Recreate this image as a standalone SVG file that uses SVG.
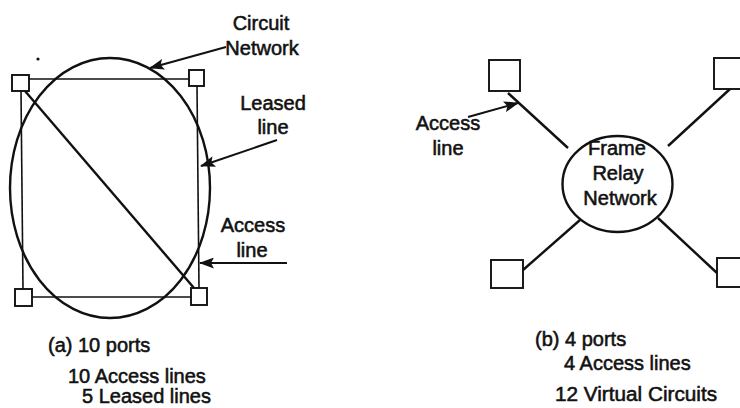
<svg xmlns="http://www.w3.org/2000/svg" width="740" height="408" viewBox="0 0 740 408">
<style>
.t{font-family:"Liberation Sans",Arial,sans-serif;font-size:20px;fill:#111;stroke:#111;stroke-width:0.55}
.m{text-anchor:middle}
.thick{fill:none;stroke:#111;stroke-width:2.4}
.thin{fill:none;stroke:#111;stroke-width:1.6}
.sq{fill:#fff;stroke:#111;stroke-width:1.9}
.arr{fill:none;stroke:#111;stroke-width:2;marker-end:url(#ah)}
</style>
<defs>
<marker id="ah" markerUnits="userSpaceOnUse" markerWidth="15" markerHeight="11" refX="14" refY="5.5" orient="auto">
<path d="M0,0 L15,5.5 L0,11 L3,5.5 z" fill="#111"/>
</marker>
</defs>
<rect width="740" height="408" fill="#fff"/>
<g id="connectors">
<ellipse class="thick" cx="110" cy="188" rx="100" ry="130"/>
<line class="thin" x1="29" y1="79" x2="189" y2="79"/>
<line class="thin" x1="21" y1="91" x2="23" y2="289"/>
<line class="thin" x1="197" y1="86" x2="199" y2="288"/>
<line class="thin" x1="32" y1="297" x2="191" y2="297"/>
<line class="thick" x1="25" y1="91" x2="194" y2="288"/>
<line class="arr" x1="226" y1="47" x2="150" y2="68"/>
<line class="arr" x1="277" y1="140" x2="201" y2="166"/>
<line class="arr" x1="287" y1="263" x2="200" y2="263"/>
<line class="thick" x1="508" y1="93" x2="568" y2="148"/>
<line class="thick" x1="730" y1="89" x2="668" y2="146"/>
<line class="thick" x1="523" y1="270" x2="580" y2="220"/>
<line class="thick" x1="658" y1="218" x2="717" y2="273"/>
<line class="arr" x1="468" y1="117" x2="518" y2="103"/>
</g>
<g id="circuit-network">
<text class="t m" x="261" y="30">Circuit</text>
<text class="t m" x="262" y="55">Network</text>
</g>
<g id="port-a1"><rect class="sq" x="12" y="75" width="17" height="16"/></g>
<g id="port-a2"><rect class="sq" x="189" y="70" width="15" height="16"/></g>
<g id="port-a3"><rect class="sq" x="15" y="289" width="17" height="17"/></g>
<g id="port-a4"><rect class="sq" x="191" y="288" width="16" height="17"/></g>
<circle cx="38" cy="59" r="1.6" fill="#111"/>
<g id="label-leased">
<text class="t m" x="273" y="110">Leased</text>
<text class="t m" x="273" y="134">line</text>
</g>
<g id="label-access-a">
<text class="t m" x="253" y="232">Access</text>
<text class="t m" x="252" y="257">line</text>
</g>
<g id="caption-a">
<text class="t" x="48" y="352">(a) 10 ports</text>
<text class="t" x="68" y="383">10 Access lines</text>
<text class="t" x="82" y="403">5 Leased lines</text>
</g>
<g id="frame-relay">
<ellipse class="thick" cx="617.5" cy="184" rx="55" ry="48"/>
<text class="t m" x="617" y="155">Frame</text>
<text class="t m" x="618" y="180">Relay</text>
<text class="t m" x="620" y="205">Network</text>
</g>
<g id="port-b1"><rect class="sq" x="489" y="60" width="31" height="31"/></g>
<g id="port-b2"><rect class="sq" x="714" y="58" width="31" height="31"/></g>
<g id="port-b3"><rect class="sq" x="491" y="260" width="32" height="28"/></g>
<g id="port-b4"><rect class="sq" x="717" y="258" width="31" height="29"/></g>
<g id="label-access-b">
<text class="t m" x="448" y="130">Access</text>
<text class="t m" x="448" y="155">line</text>
</g>
<g id="caption-b">
<text class="t" x="535" y="346">(b) 4 ports</text>
<text class="t" x="564" y="370">4 Access lines</text>
<text class="t" x="555" y="401" textLength="162" lengthAdjust="spacingAndGlyphs">12 Virtual Circuits</text>
</g>
</svg>
